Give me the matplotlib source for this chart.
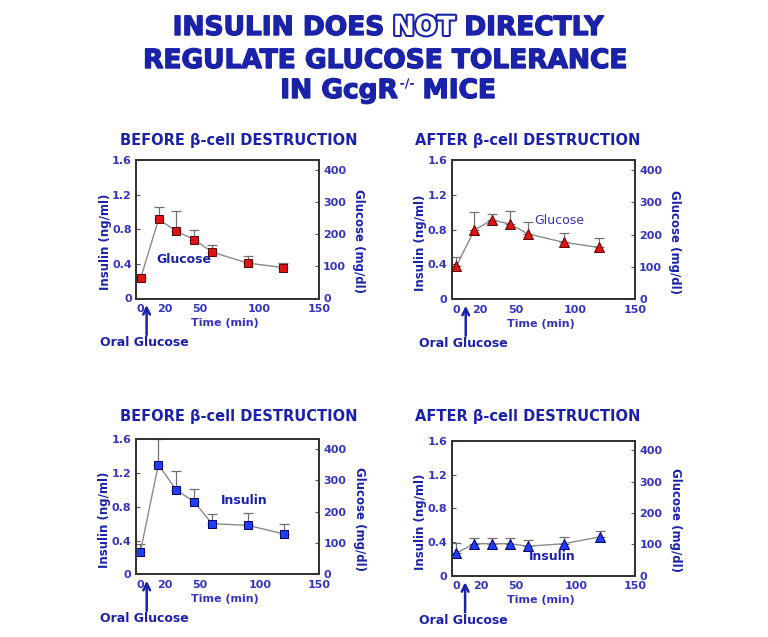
import matplotlib
matplotlib.use("Agg")
import matplotlib.pyplot as plt
import matplotlib.patheffects as pe

# ---------------- data ----------------
time_min = [0, 15, 30, 45, 60, 90, 120]

glucose_before = [64, 246, 209, 183, 144, 110, 96]
glucose_before_err = [0, 37, 63, 29, 23, 22, 14]
glucose_after = [103, 214, 245, 232, 202, 176, 160]
glucose_after_err = [27, 56, 17, 41, 38, 30, 29]

insulin_before = [0.27, 1.30, 1.00, 0.86, 0.60, 0.58, 0.48]
insulin_before_err = [0.09, 0.30, 0.22, 0.15, 0.11, 0.15, 0.12]
insulin_after = [0.27, 0.38, 0.38, 0.38, 0.35, 0.38, 0.46]
insulin_after_err = [0.12, 0.07, 0.07, 0.07, 0.07, 0.08, 0.07]

x_ticks = [0, 20, 50, 100, 150]
insulin_ticks = [0, 0.4, 0.8, 1.2, 1.6]
insulin_tick_labels = ["0", "0.4", "0.8", "1.2", "1.6"]
glucose_ticks = [0, 100, 200, 300, 400]

panel_titles = ["BEFORE \u03b2-cell DESTRUCTION", "AFTER \u03b2-cell DESTRUCTION",
                "BEFORE \u03b2-cell DESTRUCTION", "AFTER \u03b2-cell DESTRUCTION"]
series_labels = ["Glucose", "Glucose", "Insulin", "Insulin"]

# ---------------- style ----------------
W, H = 768, 637
BLUE = "#1a22a8"
TICKBLUE = "#3535bb"
RED = "#dd1414"
RED_EDGE = "#5a0000"
MBLUE = "#1f3dff"
MBLUE_EDGE = "#000060"
LINEGRAY = "#8a8a8a"

fig = plt.figure(figsize=(W / 100, H / 100), dpi=100)
fig.patch.set_facecolor("white")


def fx(px):
    return px / W


def fy(py):
    return 1 - py / H


# ---------------- main title ----------------
renderer = fig.canvas.get_renderer()
title_kw = dict(fontsize=19, fontweight="bold", color=BLUE, family="DejaVu Sans",
                va="center", ha="left",
                path_effects=[pe.Stroke(linewidth=1.0, foreground=BLUE), pe.Normal()])


def pieces_line(pieces, ycenter_px, xcenter_px, gap_px):
    texts = []
    for s, kw, dy in pieces:
        t = fig.text(0, fy(ycenter_px - dy), s, **kw)
        texts.append(t)
    widths = [t.get_window_extent(renderer).width for t in texts]
    total = sum(widths) + sum(g for g in gap_px)
    x = xcenter_px - total / 2
    for i, t in enumerate(texts):
        t.set_x(fx(x))
        x += widths[i] + (gap_px[i] if i < len(gap_px) else 0)


not_kw = dict(title_kw)
not_kw["color"] = "white"
not_kw["path_effects"] = [pe.Stroke(linewidth=3.0, foreground=BLUE), pe.Normal()]

pieces_line([("INSULIN DOES", title_kw, 0), ("NOT", not_kw, 0), ("DIRECTLY", title_kw, 0)],
            28, 388, [9, 9])
fig.text(fx(385), fy(61), "REGULATE GLUCOSE TOLERANCE",
         **{**title_kw, "ha": "center"})
sup_kw = dict(title_kw)
sup_kw["fontsize"] = 9
sup_kw["path_effects"] = [pe.Normal()]
pieces_line([("IN GcgR", title_kw, 0), ("-/-", sup_kw, 7), ("MICE", title_kw, 0)],
            91, 388, [2, 8])

# ---------------- panels ----------------
# (left, top, right, bottom) in pixels
rects = [(136, 160, 319, 298.5), (451.7, 160, 635, 299.3),
         (135.7, 439.3, 319.3, 574.3), (451.7, 441, 635.3, 575.7)]
title_pos = [(239, 140), (528, 140), (239, 417), (528, 417)]
series = [
    (glucose_before, glucose_before_err, "s", RED, RED_EDGE, "glu"),
    (glucose_after, glucose_after_err, "^", RED, RED_EDGE, "glu"),
    (insulin_before, insulin_before_err, "s", MBLUE, MBLUE_EDGE, "ins"),
    (insulin_after, insulin_after_err, "^", MBLUE, MBLUE_EDGE, "ins"),
]
label_pos = [(0.26, 0.278, "bold"), (0.586, 0.564, "normal"),
             (0.593, 0.55, "bold"), (0.546, 0.141, "bold")]
arrow_x = [0.058, 0.0765, 0.06, 0.073]
oral_x = [0.044, 0.061, 0.045, 0.061]

for i, (l, t, r, b) in enumerate(rects):
    ax = fig.add_axes([fx(l), fy(b), (r - l) / W, (b - t) / H])
    ax.set_xlim(-4, 150)
    ax.set_ylim(0, 1.6)
    ax2 = ax.twinx()
    ax2.set_ylim(0, 430)

    ax.set_xticks(x_ticks)
    ax.set_xticklabels([str(v) for v in x_ticks])
    ax.set_yticks(insulin_ticks)
    ax.set_yticklabels(insulin_tick_labels)
    ax2.set_yticks(glucose_ticks)
    ax2.set_yticklabels([str(v) for v in glucose_ticks])

    for a in (ax, ax2):
        for sp in a.spines.values():
            sp.set_color("#333333")
            sp.set_linewidth(1.3)
    ax.tick_params(axis="x", length=0, pad=4, labelsize=8, labelcolor=TICKBLUE)
    ax.tick_params(axis="y", direction="in", length=3, width=0.8, color="#555555",
                   pad=3, labelsize=8, labelcolor=TICKBLUE)
    ax2.tick_params(axis="y", direction="in", length=3, width=0.8, color="#555555",
                    pad=3, labelsize=8, labelcolor=TICKBLUE)
    for lab in ax.get_xticklabels() + ax.get_yticklabels() + ax2.get_yticklabels():
        lab.set_fontweight("bold")

    vals, err, mk, fc, ec, kind = series[i]
    target = ax2 if kind == "glu" else ax
    target.errorbar(time_min, vals, yerr=[[0] * len(err), err], fmt="none",
                    ecolor="#707070", elinewidth=0.9, capsize=3.5, capthick=0.9, zorder=2)
    target.plot(time_min, vals, color=LINEGRAY, lw=1.0, zorder=2)
    target.plot(time_min, vals, linestyle="none", marker=mk, markersize=6 if mk == "s" else 7,
                markerfacecolor=fc, markeredgecolor=ec, markeredgewidth=0.7, zorder=3)

    lx, ly, lw_ = label_pos[i]
    ax.text(lx, ly, series_labels[i], transform=ax.transAxes, ha="center", va="center",
            fontsize=9, fontweight=lw_, color=BLUE if lw_ == "bold" else "#3333aa")

    # time label
    ax.text(0.485, -0.18, "Time (min)", transform=ax.transAxes, ha="center", va="center",
            fontsize=8, fontweight="bold", color=TICKBLUE)

    # arrow and oral glucose
    h_px = b - t
    ax.annotate("", xy=(arrow_x[i], -6.5 / h_px), xytext=(arrow_x[i], -36.5 / h_px),
                xycoords="axes fraction", textcoords="axes fraction",
                arrowprops=dict(arrowstyle="->", color=BLUE, lw=1.8,
                                mutation_scale=12, shrinkA=0, shrinkB=0),
                annotation_clip=False)
    ax.text(oral_x[i], -(44.5) / h_px, "Oral Glucose", transform=ax.transAxes,
            ha="center", va="center", fontsize=9, fontweight="bold", color=BLUE)

    # panel title
    px, py = title_pos[i]
    fig.text(fx(px), fy(py), panel_titles[i], ha="center", va="center",
             fontsize=10.5, fontweight="bold", color=BLUE)

    # axis labels
    fig.text(fx(l - 31), fy((t + b) / 2 + 13), "Insulin (ng/ml)", rotation=90,
             ha="center", va="center", fontsize=8.5, fontweight="bold", color=BLUE)
    fig.text(fx(r + 40), fy((t + b) / 2 + 12), "Glucose (mg/dl)", rotation=270,
             ha="center", va="center", fontsize=8.5, fontweight="bold", color=BLUE)

fig.savefig("out.png", dpi=100, facecolor="white")
